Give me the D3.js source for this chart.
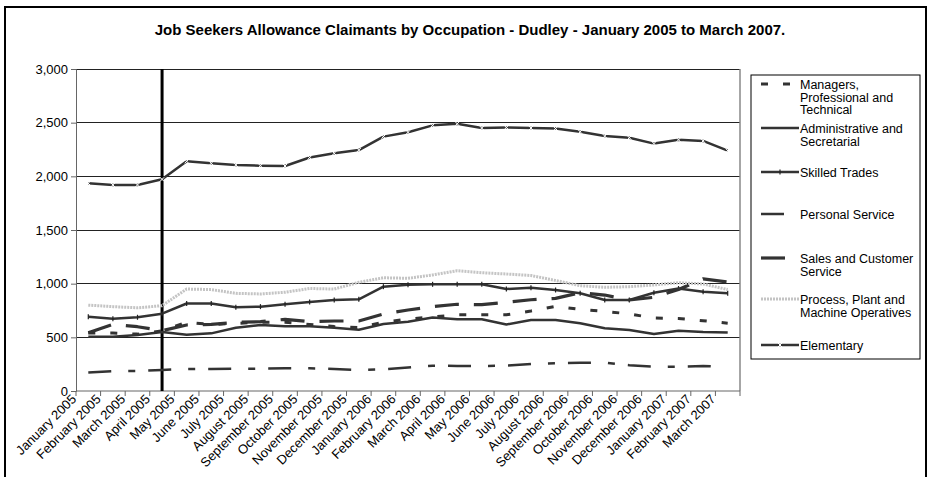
<!DOCTYPE html>
<html>
<head>
<meta charset="utf-8">
<script src="https://cdn.jsdelivr.net/npm/d3@7"></script>
<style>
  body { margin: 0; background: #fff; }
  svg { display: block; font-family: Arial, "Liberation Sans", sans-serif; }
</style>
</head>
<body>
<svg id="chart" width="930" height="477"></svg>
<script>
// months on the category axis
const months = ["January 2005", "February 2005", "March 2005", "April 2005", "May 2005", "June 2005",
  "July 2005", "August 2005", "September 2005", "October 2005", "November 2005", "December 2005",
  "January 2006", "February 2006", "March 2006", "April 2006", "May 2006", "June 2006",
  "July 2006", "August 2006", "September 2006", "October 2006", "November 2006", "December 2006",
  "January 2007", "February 2007", "March 2007"];

// claimant counts
const managers = [540, 540, 530, 560, 640, 620, 630, 640, 640, 620, 600, 590, 640, 670, 690, 710, 710, 710, 745, 788, 760, 742, 718, 680, 675, 655, 632];
const admin = [505, 505, 522, 550, 525, 537, 590, 615, 603, 603, 590, 570, 625, 645, 685, 668, 668, 620, 662, 662, 631, 584, 568, 531, 562, 550, 544];
const skilled = [692, 673, 687, 720, 815, 815, 781, 786, 808, 830, 848, 854, 972, 990, 994, 994, 994, 950, 963, 941, 910, 848, 848, 916, 955, 925, 910];
const personal = [172, 186, 186, 196, 205, 206, 208, 208, 211, 211, 205, 195, 202, 220, 236, 233, 233, 236, 252, 258, 264, 264, 240, 227, 227, 233, 222];
const sales = [543, 621, 599, 562, 615, 621, 640, 646, 668, 646, 652, 652, 717, 755, 786, 808, 804, 826, 850, 863, 916, 894, 848, 873, 945, 1045, 1015];
const processPlant = [800, 786, 775, 795, 950, 945, 910, 904, 920, 955, 950, 1013, 1055, 1050, 1081, 1121, 1102, 1090, 1076, 1030, 981, 966, 972, 988, 1009, 997, 945];
const elementary = [1935, 1920, 1920, 1972, 2140, 2121, 2106, 2099, 2096, 2175, 2215, 2245, 2370, 2410, 2475, 2490, 2450, 2455, 2450, 2445, 2415, 2375, 2360, 2305, 2340, 2330, 2240];

const yTicks = [0, 500, 1000, 1500, 2000, 2500, 3000];
const title = "Job Seekers Allowance Claimants by Occupation - Dudley - January 2005 to March 2007.";
const markerMonth = "April 2005";

const series = [
  { name: ["Managers,", "Professional and", "Technical"], values: managers, color: "#333", width: 3, dash: "7,15" },
  { name: ["Administrative and", "Secretarial"], values: admin, color: "#333", width: 2.5, dash: null },
  { name: ["Skilled Trades"], values: skilled, color: "#333", width: 2.5, dash: null, marker: "tick" },
  { name: ["Personal Service"], values: personal, color: "#333", width: 2.5, dash: "23,17,7,13" },
  { name: ["Sales and Customer", "Service"], values: sales, color: "#333", width: 3.2, dash: "24,15" },
  { name: ["Process, Plant and", "Machine Operatives"], values: processPlant, color: "#c4c4c4", width: 3, dash: "2,1" },
  { name: ["Elementary"], values: elementary, color: "#333", width: 2.5, dash: null, marker: "x" }
];

const svg = d3.select("#chart");

// outer frame
svg.append("rect").attr("x", 5).attr("y", 7).attr("width", 921).attr("height", 490)
  .attr("fill", "none").attr("stroke", "#000").attr("stroke-width", 2);

svg.append("text").attr("x", 470).attr("y", 35).attr("text-anchor", "middle")
  .attr("font-size", 15).attr("font-weight", "bold").text(title);

const plotL = 76, plotR = 740, plotT = 69, plotB = 391;
const x = d3.scaleBand().domain(months).range([plotL, plotR]);
const cx = m => x(m) + x.bandwidth() / 2;
const y = d3.scaleLinear().domain([0, 3000]).range([plotB, plotT]);

// gridlines
svg.append("g").selectAll("line").data(yTicks.slice(1)).join("line")
  .attr("x1", plotL).attr("x2", plotR).attr("y1", d => y(d)).attr("y2", d => y(d))
  .attr("stroke", "#222").attr("stroke-width", 1).attr("shape-rendering", "crispEdges");

// plot right border
svg.append("line").attr("x1", plotR).attr("x2", plotR).attr("y1", plotT).attr("y2", plotB)
  .attr("stroke", "#888").attr("stroke-width", 1.5);

// y axis
const yAxis = svg.append("g").attr("transform", `translate(${plotL},0)`)
  .call(d3.axisLeft(y).tickValues(yTicks).tickFormat(d3.format(",")).tickSize(5).tickPadding(3));
yAxis.selectAll("text").attr("font-size", 13).attr("fill", "#000").attr("font-family", "Arial, 'Liberation Sans', sans-serif");
yAxis.selectAll("line,path").attr("stroke", "#666");

// x axis: ticks sit on category boundaries
const xg = svg.append("g");
xg.append("line").attr("x1", plotL).attr("x2", plotR).attr("y1", plotB).attr("y2", plotB)
  .attr("stroke", "#666");
const bounds = months.map(m => x(m)).concat([plotR]);
xg.selectAll("line.tk").data(bounds).join("line").attr("class", "tk")
  .attr("x1", d => d).attr("x2", d => d).attr("y1", plotB).attr("y2", plotB + 5)
  .attr("stroke", "#666");
xg.selectAll("text").data(months).join("text")
  .attr("transform", m => `translate(${x(m) + 1},${plotB + 9}) rotate(-45)`)
  .attr("text-anchor", "end").attr("font-size", 13).text(m => m);

// April 2005 marker line
svg.append("line").attr("x1", cx(markerMonth)).attr("x2", cx(markerMonth))
  .attr("y1", plotT).attr("y2", plotB).attr("stroke", "#000").attr("stroke-width", 3);

// series lines
const line = d3.line().x((d, i) => cx(months[i])).y(d => y(d));
series.forEach(s => {
  svg.append("path").datum(s.values).attr("d", line)
    .attr("fill", "none").attr("stroke", s.color).attr("stroke-width", s.width)
    .attr("stroke-dasharray", s.dash).attr("stroke-linejoin", "round");
  if (s.marker === "tick") {
    svg.append("g").selectAll("line").data(s.values).join("line")
      .attr("x1", (d, i) => cx(months[i])).attr("x2", (d, i) => cx(months[i]))
      .attr("y1", d => y(d) - 2.5).attr("y2", d => y(d) + 2.5)
      .attr("stroke", "#222").attr("stroke-width", 1.2);
  }
  if (s.marker === "x") {
    svg.append("g").selectAll("path").data(s.values).join("path")
      .attr("d", (d, i) => {
        const px = cx(months[i]), py = y(d);
        return `M${px - 2},${py - 2}L${px + 2},${py + 2}M${px - 2},${py + 2}L${px + 2},${py - 2}`;
      })
      .attr("stroke", "#fff").attr("stroke-width", 1);
  }
});

// legend
svg.append("rect").attr("x", 751).attr("y", 75).attr("width", 169).attr("height", 284)
  .attr("fill", "#fff").attr("stroke", "#000").attr("stroke-width", 1);
const legendY = [84, 128, 172, 214, 258, 299, 345];
series.forEach((s, k) => {
  const ly = legendY[k];
  svg.append("line").attr("x1", 761).attr("x2", 799).attr("y1", ly).attr("y2", ly)
    .attr("stroke", s.color).attr("stroke-width", s.width).attr("stroke-dasharray", s.dash);
  if (s.marker === "x") {
    svg.append("path").attr("d", `M778,${ly - 2}L782,${ly + 2}M778,${ly + 2}L782,${ly - 2}`)
      .attr("stroke", "#fff").attr("stroke-width", 1);
  }
  if (s.marker === "tick") {
    svg.append("line").attr("x1", 780).attr("x2", 780).attr("y1", ly - 2.5).attr("y2", ly + 2.5)
      .attr("stroke", "#222").attr("stroke-width", 1.2);
  }
  svg.append("text").attr("x", 800).attr("y", ly + 5).attr("font-size", 12.5)
    .selectAll("tspan").data(s.name).join("tspan")
    .attr("x", 800).attr("dy", (d, i) => i === 0 ? 0 : 12.5).text(d => d);
});
</script>
</body>
</html>
